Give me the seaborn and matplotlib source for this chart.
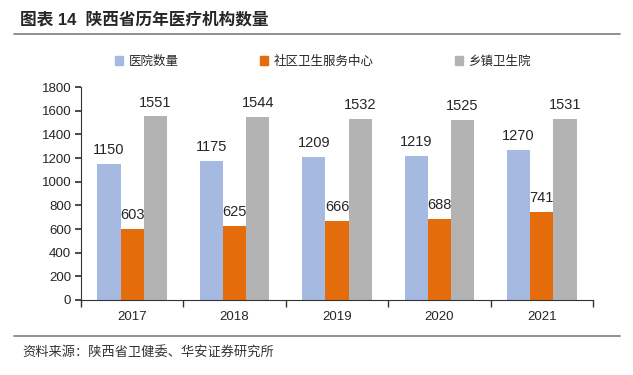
import pandas as pd
import numpy as np
import matplotlib.pyplot as plt
import seaborn as sns

# 数据
years = ["2017", "2018", "2019", "2020", "2021"]
hospitals = [1150, 1175, 1209, 1219, 1270]
community = [603, 625, 666, 688, 741]
township = [1551, 1544, 1532, 1525, 1531]
series_names = ["医院数量", "社区卫生服务中心", "乡镇卫生院"]
colors = ["#A5B9E1", "#E46C0A", "#B3B3B3"]

sns.set_theme(style="white")
plt.rcParams['font.family'] = ['Liberation Sans', 'Noto Sans CJK SC', 'DejaVu Sans']

df = pd.DataFrame({
    "年份": years * 3,
    "数量": hospitals + community + township,
    "类别": [series_names[0]] * 5 + [series_names[1]] * 5 + [series_names[2]] * 5,
})

fig = plt.figure(figsize=(6.33, 3.75), dpi=100)
ax = fig.add_axes([81 / 633, 1 - 300 / 375, 512 / 633, 213 / 375])

sns.barplot(data=df, x="年份", y="数量", hue="类别", palette=colors, width=0.68,
            ax=ax, legend=False, saturation=1, linewidth=0, edgecolor="none")

for cont in ax.containers:
    ax.bar_label(cont, padding=5, fontsize=10.5)

ax.set_ylim(0, 1800)
ax.set_yticks(range(0, 1801, 200))
ax.set_xlim(-0.5, 4.5)
ax.set_xlabel("")
ax.set_ylabel("")
ax.tick_params(axis="both", labelsize=9.5, length=4, direction="out", color="#333333")
ax.tick_params(axis="x", length=0, pad=8)
ax.tick_params(axis="y", left=True, pad=3)
# 类目边界刻度
ax.set_xticks(np.arange(-0.5, 5, 1), minor=True)
ax.tick_params(axis="x", which="minor", bottom=True, length=5, color="#333333")
for s in ["top", "right"]:
    ax.spines[s].set_visible(False)
for s in ["left", "bottom"]:
    ax.spines[s].set_color("#333333")
    ax.spines[s].set_linewidth(0.8)

# 图例
handles = [plt.Rectangle((0, 0), 1, 1, color=c) for c in colors]
fig.legend(handles, series_names, loc="center", bbox_to_anchor=(0.51, 1 - 62 / 375),
           ncol=3, frameon=False, fontsize=9, handlelength=0.7, handleheight=0.7,
           handletextpad=0.4, columnspacing=6.5)

# 标题与来源
fig.text(20 / 633, 1 - 20 / 375, "图表 14  陕西省历年医疗机构数量", fontsize=12,
         fontweight="bold", va="center", ha="left")
fig.add_artist(plt.Line2D([14 / 633, 620 / 633], [1 - 34 / 375] * 2, color="#888888", lw=1.3))
fig.add_artist(plt.Line2D([14 / 633, 620 / 633], [1 - 336 / 375] * 2, color="#888888", lw=1.3))
fig.text(22 / 633, 1 - 352 / 375, "资料来源：陕西省卫健委、华安证券研究所", fontsize=9.5,
         va="center", ha="left", color="#333333")

plt.savefig("out.png", dpi=100)
plt.close()
